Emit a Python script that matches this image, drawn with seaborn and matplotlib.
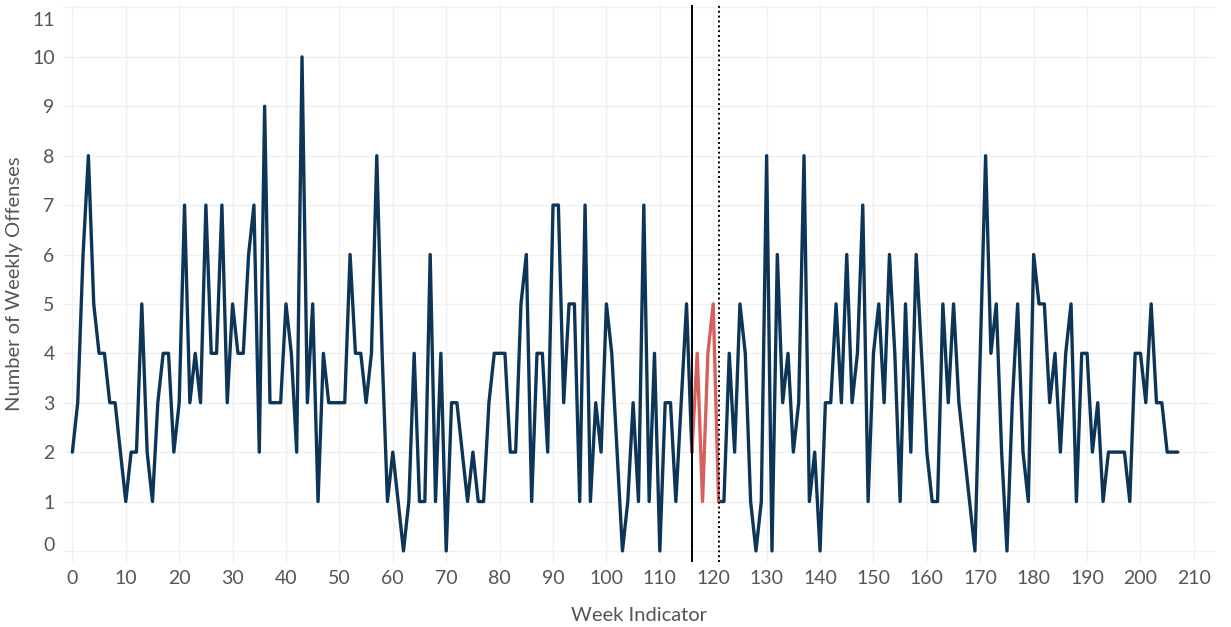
import numpy as np
import pandas as pd
import matplotlib
matplotlib.use("Agg")
import matplotlib.pyplot as plt
import matplotlib.transforms as mtransforms
import seaborn as sns

# ---- data ----
weeks = list(range(0, 208))
offenses = [
    2, 3, 6, 8, 5, 4, 4, 3, 3, 2,   # 0-9
    1, 2, 2, 5, 2, 1, 3, 4, 4, 2,   # 10-19
    3, 7, 3, 4, 3, 7, 4, 4, 7, 3,   # 20-29
    5, 4, 4, 6, 7, 2, 9, 3, 3, 3,   # 30-39
    5, 4, 2, 10, 3, 5, 1, 4, 3, 3,  # 40-49
    3, 3, 6, 4, 4, 3, 4, 8, 4, 1,   # 50-59
    2, 1, 0, 1, 4, 1, 1, 6, 1, 4,   # 60-69
    0, 3, 3, 2, 1, 2, 1, 1, 3, 4,   # 70-79
    4, 4, 2, 2, 5, 6, 1, 4, 4, 2,   # 80-89
    7, 7, 3, 5, 5, 1, 7, 1, 3, 2,   # 90-99
    5, 4, 2, 0, 1, 3, 1, 7, 1, 4,   # 100-109
    0, 3, 3, 1, 3, 5, 2, 4, 1, 4,   # 110-119
    5, 1, 1, 4, 2, 5, 4, 1, 0, 1,   # 120-129
    8, 0, 6, 3, 4, 2, 3, 8, 1, 2,   # 130-139
    0, 3, 3, 5, 3, 6, 3, 4, 7, 1,   # 140-149
    4, 5, 3, 6, 4, 1, 5, 2, 6, 4,   # 150-159
    2, 1, 1, 5, 3, 5, 3, 2, 1, 0,   # 160-169
    4, 8, 4, 5, 2, 0, 3, 5, 2, 1,   # 170-179
    6, 5, 5, 3, 4, 2, 4, 5, 1, 4,   # 180-189
    4, 2, 3, 1, 2, 2, 2, 2, 1, 4,   # 190-199
    4, 3, 5, 3, 3, 2, 2, 2,         # 200-207
]
highlight_start = 116   # solid reference line
highlight_end = 121     # dotted reference line
x_ticks = list(range(0, 211, 10))
y_ticks = list(range(0, 12))

# ---- build frame with segments ----
w = np.array(weeks)
v = np.array(offenses)
frames = []
m1 = w <= highlight_start
frames.append(pd.DataFrame({"week": w[m1], "offenses": v[m1], "seg": "before"}))
m2 = (w >= highlight_start) & (w <= highlight_end)
frames.append(pd.DataFrame({"week": w[m2], "offenses": v[m2], "seg": "highlight"}))
m3 = w >= highlight_end
frames.append(pd.DataFrame({"week": w[m3], "offenses": v[m3], "seg": "after"}))
df = pd.concat(frames, ignore_index=True)

BLUE = "#0c3558"
RED = "#d4615f"
TXT = "#555555"

sns.set_theme(style="white")
plt.rcParams["font.family"] = ["Lato", "DejaVu Sans"]

fig = plt.figure(figsize=(12.31, 6.27), dpi=100)
ax = fig.add_axes([0.0512, 0.104, 0.936, 0.888])

sns.lineplot(data=df, x="week", y="offenses", hue="seg", units="seg",
             estimator=None, palette={"before": BLUE, "highlight": RED, "after": BLUE},
             hue_order=["before", "after", "highlight"],
             linewidth=2.4, legend=False, ax=ax, zorder=3)

ax.axvline(highlight_start, color="black", linewidth=1.4, zorder=4)
ax.axvline(highlight_end, color="black", linewidth=1.4, linestyle=(0, (1, 1.5)), zorder=4)

ax.set_xlim(-1.75, 214)
ax.set_ylim(-0.22, 11.05)
ax.set_xticks(x_ticks)
ax.set_yticks(y_ticks)
ax.grid(True, color="#f0f0f0", linewidth=1.0)
ax.set_axisbelow(True)
for s in ax.spines.values():
    s.set_visible(False)
ax.tick_params(axis="both", length=0, labelsize=14, colors=TXT, pad=6)
ax.set_xlabel("Week Indicator", fontsize=14.5, color=TXT, labelpad=14)
ax.set_ylabel("Number of Weekly Offenses", fontsize=14.5, color=TXT)
ax.yaxis.set_label_coords(-0.0348, 0.5)

# Tableau-style inward shift of the extreme y labels
ylabels = ax.get_yticklabels()
ylabels[0].set_transform(ylabels[0].get_transform() +
                         mtransforms.ScaledTranslation(0, 7 / 100, fig.dpi_scale_trans))
ylabels[-1].set_transform(ylabels[-1].get_transform() +
                          mtransforms.ScaledTranslation(0, -12 / 100, fig.dpi_scale_trans))

fig.savefig("out.png", dpi=100)
